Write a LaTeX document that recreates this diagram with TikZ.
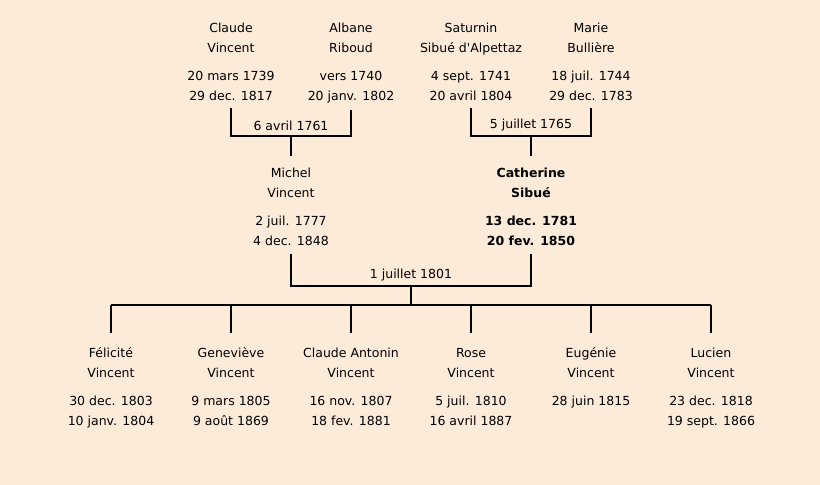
\documentclass[tikz,border=0pt]{standalone}
\usepackage{fontspec}
\setmainfont{DejaVu Sans}
\usetikzlibrary{positioning, calc}
\definecolor{parchment}{RGB}{252,235,216}

\tikzset{
  person/.style={anchor=north, align=center, inner sep=0pt, font=\fontsize{12.5}{20}\selectfont},
  link/.style={line width=1.8pt},
  wedding/.style={above=5pt, inner sep=0pt, font=\fontsize{12.5}{15}\selectfont}
}
% name / surname, gap, born / died
\newcommand{\who}[4]{\vphantom{Él}#1\\#2\\[8pt]#3\\#4}

\begin{document}
\begin{tikzpicture}[x=1pt, y=-1pt]
  \fill[parchment] (0,0) rectangle (820,485); %background

  % grand parents
  \node[person] (claude) at (231,20.5) {\who{Claude}{Vincent}{20 mars 1739}{29 dec. 1817}};
  \node[person] (albane) at (351,20.5) {\who{Albane}{Riboud}{vers 1740}{20 janv. 1802}};
  \node[person] (saturnin) at (471,20.5) {\who{Saturnin}{Sibué d\textquotesingle Alpettaz}{4 sept. 1741}{20 avril 1804}};
  \node[person] (marie) at (591,20.5) {\who{Marie}{Bullière}{18 juil. 1744}{29 dec. 1783}};

  % parents
  \node[person] (michel) at (291,165.5) {\who{Michel}{Vincent}{2 juil. 1777}{4 dec. 1848}};
  \node[person, font=\fontsize{12.5}{20}\selectfont\bfseries] (catherine) at (531,165.5) {\who{Catherine}{Sibué}{13 dec. 1781}{20 fev. 1850}};

  % children
  \node[person] (felicite) at (111,346) {\who{Félicité}{Vincent}{30 dec. 1803}{10 janv. 1804}};
  \node[person] (genevieve) at (231,346) {\who{Geneviève}{Vincent}{9 mars 1805}{9 août 1869}};
  \node[person] (claudeant) at (351,346) {\who{Claude Antonin}{Vincent}{16 nov. 1807}{18 fev. 1881}};
  \node[person] (rose) at (471,346) {\who{Rose}{Vincent}{5 juil. 1810}{16 avril 1887}};
  \node[person] (eugenie) at (591,346) {\who{Eugénie}{Vincent}{28 juin 1815}{}};
  \node[person] (lucien) at (711,346) {\who{Lucien}{Vincent}{23 dec. 1818}{19 sept. 1866}};

  % marriages
  \coordinate (m1) at (291,136);
  \coordinate (m2) at (531,136);
  \coordinate (m3) at (411,286);
  \coordinate (rail) at (411,305);

  \draw[link] ([yshift=-7pt]claude.south) |- (m1) -| ([yshift=-7pt]albane.south);
  \draw[link] (m1) -- ([yshift=9.5pt]michel.north);
  \node[wedding] at (m1) {6 avril 1761};

  \draw[link] ([yshift=-7pt]saturnin.south) |- (m2) -| ([yshift=-7pt]marie.south);
  \draw[link] (m2) -- ([yshift=9.5pt]catherine.north);
  \node[wedding] at (m2) {5 juillet 1765};

  \draw[link] ([yshift=-8pt]michel.south) |- (m3) -| ([yshift=-8pt]catherine.south);
  \node[wedding] at (m3) {1 juillet 1801};
  \draw[link] (m3) -- (rail);

  \draw[link] (felicite.north |- rail) -- (lucien.north |- rail);
  \foreach \c in {felicite, genevieve, claudeant, rose, eugenie, lucien}
    \draw[link] (\c.north |- rail) -- ([yshift=13pt]\c.north);
\end{tikzpicture}
\end{document}
